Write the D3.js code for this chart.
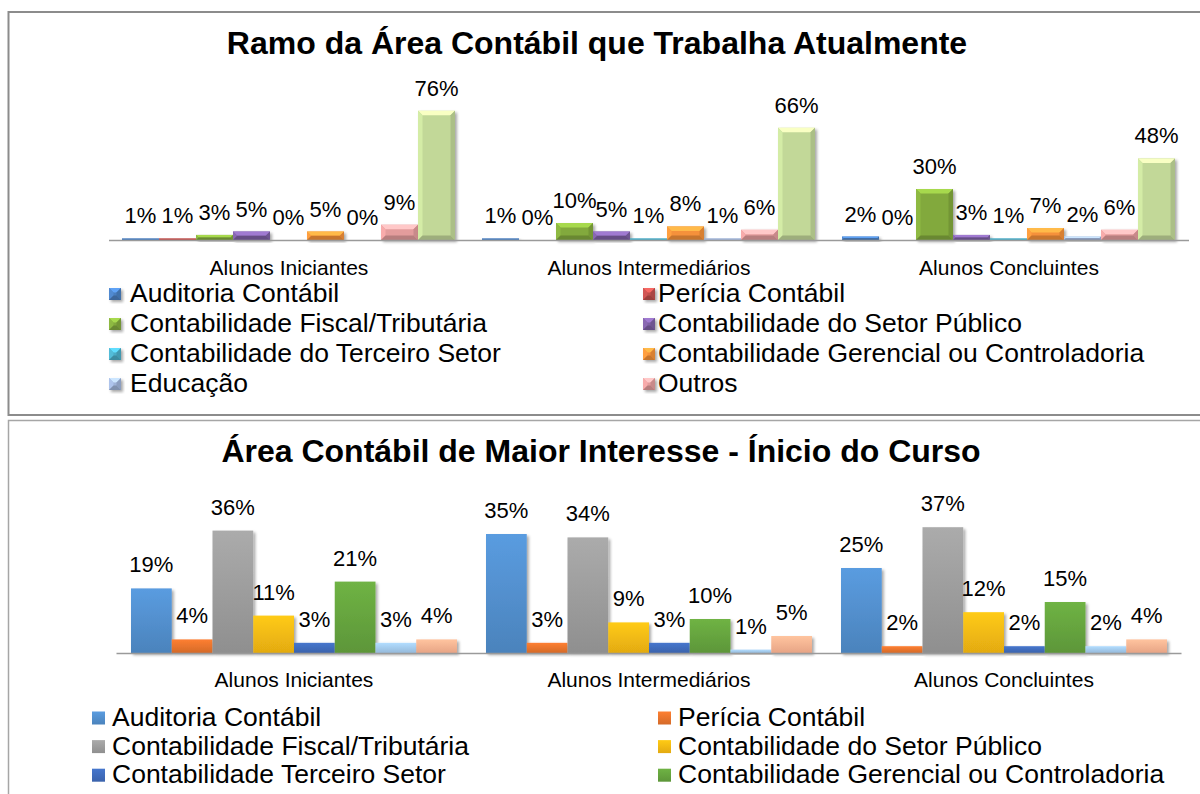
<!DOCTYPE html>
<html>
<head>
<meta charset="utf-8">
<script src="https://cdn.jsdelivr.net/npm/d3@7"></script>
<style>
  body { margin: 0; background: #fff; }
  svg { display: block; font-family: "Liberation Sans", Arial, sans-serif; }
</style>
</head>
<body>
<div id="chart"></div>
<script>
// Categories shared by both charts
const categories = ["Alunos Iniciantes", "Alunos Intermediários", "Alunos Concluintes"];

// Chart 1: Ramo da Área Contábil que Trabalha Atualmente (%)
const ramoSeries = [
    "Auditoria Contábil", "Perícia Contábil", "Contabilidade Fiscal/Tributária",
    "Contabilidade do Setor Público", "Contabilidade do Terceiro Setor",
    "Contabilidade Gerencial ou Controladoria", "Educação", "Outros", "Não trabalha na área"
];
const ramoColors = ["#4a7ebf", "#c0504d", "#82a93c", "#7d5fa3", "#4bacc6", "#f5913a", "#9fb3d8", "#e39c9c", "#c2d898"];
const ramoIniciantes = [1, 1, 3, 5, 0, 5, 0, 9, 76];
const ramoIntermediarios = [1, 0, 10, 5, 1, 8, 1, 6, 66];
const ramoConcluintes = [2, 0, 30, 3, 1, 7, 2, 6, 48];
const ramoLegendCount = 8;

// Chart 2: Área Contábil de Maior Interesse - Ínicio do Curso (%)
const interesseSeries = [
    "Auditoria Contábil", "Perícia Contábil", "Contabilidade Fiscal/Tributária",
    "Contabilidade do Setor Público", "Contabilidade Terceiro Setor",
    "Contabilidade Gerencial ou Controladoria", "Educação", "Outros"
];
const interesseColors = ["#4f8ac6", "#e0702b", "#979797", "#efb312", "#3e68b5", "#629e3c", "#9dc3e6", "#f4ad8c"];
const interesseIniciantes = [19, 4, 36, 11, 3, 21, 3, 4];
const interesseIntermediarios = [35, 3, 34, 9, 3, 10, 1, 5];
const interesseConcluintes = [25, 2, 37, 12, 2, 15, 2, 4];
const interesseLegendCount = 6;

const W = 1200, H = 794;
const svg = d3.select("#chart").append("svg").attr("width", W).attr("height", H);
const defs = svg.append("defs");

// soft shadow
const shadow = defs.append("filter").attr("id", "shadow")
    .attr("x", "-20%").attr("y", "-20%").attr("width", "150%").attr("height", "150%");
shadow.append("feGaussianBlur").attr("in", "SourceAlpha").attr("stdDeviation", 1.6);
shadow.append("feOffset").attr("dx", 2).attr("dy", 1.5).attr("result", "off");
shadow.append("feComponentTransfer").append("feFuncA").attr("type", "linear").attr("slope", 0.35);
const merge = shadow.append("feMerge");
merge.append("feMergeNode");
merge.append("feMergeNode").attr("in", "SourceGraphic");

// vertical gradients for the flat (bottom) bars
interesseColors.forEach((c, i) => {
    const g = defs.append("linearGradient").attr("id", "ig" + i)
        .attr("x1", 0).attr("y1", 0).attr("x2", 0).attr("y2", 1);
    g.append("stop").attr("offset", "0%").attr("stop-color", d3.color(c).brighter(0.35));
    g.append("stop").attr("offset", "100%").attr("stop-color", d3.color(c).darker(0.15));
});

// panel frames
svg.append("rect").attr("x", 8.5).attr("y", 12).attr("width", 1200).attr("height", 403)
    .attr("fill", "none").attr("stroke", "#8c8c8c").attr("stroke-width", 2);
svg.append("rect").attr("x", 8.5).attr("y", 420.5).attr("width", 1200).attr("height", 400)
    .attr("fill", "none").attr("stroke", "#a6a6a6").attr("stroke-width", 1.5);

// ---------- Chart 1 (bevelled bars) ----------
const topCfg = { base: 240, x0: 109, x1: 1189 };
const ramoRows = [ramoIniciantes, ramoIntermediarios, ramoConcluintes];

svg.append("text").attr("x", 597).attr("y", 54).attr("text-anchor", "middle")
    .attr("font-size", 32).attr("font-weight", "bold").text("Ramo da Área Contábil que Trabalha Atualmente");

const xTop = d3.scaleBand().domain(categories).range([topCfg.x0, topCfg.x1]);
const xTopInner = d3.scaleBand().domain(ramoSeries).range([13, xTop.bandwidth() - 14]);
const yTop = d3.scaleLinear().domain([0, 80]).range([topCfg.base, topCfg.base - 136]);

function bevelBar(g, x, y, w, h, c) {
    if (h <= 0) return;
    const col = d3.color(c);
    const b = Math.min(4.5, h / 2);
    const bar = g.append("g").attr("filter", "url(#shadow)");
    bar.append("rect").attr("x", x).attr("y", y).attr("width", w).attr("height", h).attr("fill", col);
    if (h < 3) return;
    bar.append("polygon").attr("points", [[x, y], [x + w, y], [x + w - b, y + b], [x + b, y + b]].join(" "))
        .attr("fill", col.brighter(0.7));
    bar.append("polygon").attr("points", [[x, y], [x + b, y + b], [x + b, y + h - b], [x, y + h]].join(" "))
        .attr("fill", col.brighter(0.25));
    bar.append("polygon").attr("points", [[x + w, y], [x + w - b, y + b], [x + w - b, y + h - b], [x + w, y + h]].join(" "))
        .attr("fill", col.darker(0.35));
    bar.append("polygon").attr("points", [[x, y + h], [x + b, y + h - b], [x + w - b, y + h - b], [x + w, y + h]].join(" "))
        .attr("fill", col.darker(0.6));
}

const gTop = svg.append("g");
categories.forEach((cat, ci) => {
    ramoRows[ci].forEach((v, si) => {
        const x = xTop(cat) + xTopInner(ramoSeries[si]);
        const w = xTopInner.bandwidth();
        const y = yTop(v);
        bevelBar(gTop, x, y, w, topCfg.base - y, ramoColors[si]);
        gTop.append("text").attr("x", x + w / 2).attr("y", y - 15).attr("text-anchor", "middle")
            .attr("font-size", 22).text(v + "%");
    });
});

svg.append("line").attr("x1", topCfg.x0).attr("x2", topCfg.x1).attr("y1", topCfg.base + 0.5).attr("y2", topCfg.base + 0.5)
    .attr("stroke", "#9a9a9a").attr("stroke-width", 1.5);
svg.append("g").selectAll("text").data(categories).join("text")
    .attr("x", d => xTop(d) + xTop.bandwidth() / 2).attr("y", 275)
    .attr("text-anchor", "middle").attr("font-size", 21).text(d => d);

// legend 1
const leg1 = svg.append("g");
ramoSeries.slice(0, ramoLegendCount).forEach((s, i) => {
    const col = i % 2, row = Math.floor(i / 2);
    const lx = col === 0 ? 109 : 643;
    const ly = 302 + row * 30;
    bevelBar(leg1, lx, ly - 14, 12, 12, ramoColors[i]);
    leg1.append("text").attr("x", lx + (col === 0 ? 21 : 15)).attr("y", ly).attr("font-size", 26.5).text(s);
});

// ---------- Chart 2 (flat bars) ----------
const botCfg = { base: 653, x0: 116.5, x1: 1181.5 };
const interesseRows = [interesseIniciantes, interesseIntermediarios, interesseConcluintes];

svg.append("text").attr("x", 601).attr("y", 462).attr("text-anchor", "middle")
    .attr("font-size", 32).attr("font-weight", "bold").text("Área Contábil de Maior Interesse - Ínicio do Curso");

const xBot = d3.scaleBand().domain(categories).range([botCfg.x0, botCfg.x1]);
const xBotInner = d3.scaleBand().domain(interesseSeries).range([14.5, xBot.bandwidth() - 14.5]);
const yBot = d3.scaleLinear().domain([0, 40]).range([botCfg.base, botCfg.base - 136]);

const gBot = svg.append("g");
categories.forEach((cat, ci) => {
    interesseRows[ci].forEach((v, si) => {
        const x = xBot(cat) + xBotInner(interesseSeries[si]);
        const w = xBotInner.bandwidth();
        const y = yBot(v);
        gBot.append("rect").attr("x", x).attr("y", y).attr("width", w).attr("height", botCfg.base - y)
            .attr("fill", "url(#ig" + si + ")").attr("filter", "url(#shadow)");
        gBot.append("text").attr("x", x + w / 2).attr("y", y - 16).attr("text-anchor", "middle")
            .attr("font-size", 22).text(v + "%");
    });
});

svg.append("line").attr("x1", botCfg.x0).attr("x2", botCfg.x1).attr("y1", botCfg.base + 0.5).attr("y2", botCfg.base + 0.5)
    .attr("stroke", "#9a9a9a").attr("stroke-width", 1.5);
svg.append("g").selectAll("text").data(categories).join("text")
    .attr("x", d => xBot(d) + xBot.bandwidth() / 2).attr("y", 687)
    .attr("text-anchor", "middle").attr("font-size", 21).text(d => d);

// legend 2
const leg2 = svg.append("g");
interesseSeries.slice(0, interesseLegendCount).forEach((s, i) => {
    const col = i % 2, row = Math.floor(i / 2);
    const lx = col === 0 ? 92 : 658;
    const ly = 726 + row * 28.6;
    leg2.append("rect").attr("x", lx).attr("y", ly - 14.5).attr("width", 13).attr("height", 13)
        .attr("fill", "url(#ig" + i + ")");
    leg2.append("text").attr("x", lx + 20).attr("y", ly).attr("font-size", 26.5).text(s);
});
</script>
</body>
</html>
